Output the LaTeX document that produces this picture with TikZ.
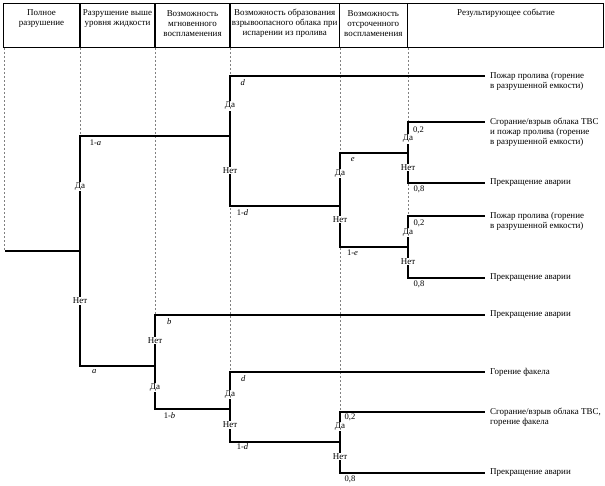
\documentclass[tikz,border=0pt]{standalone}
\usepackage{fontspec}
\setmainfont{Liberation Serif}
\begin{document}
\begin{tikzpicture}[x=1bp,y=-1bp,
  tree/.style={line width=2bp, line join=miter},
  hdr/.style={line width=1.2bp},
  guide/.style={line width=0.5bp, gray, dash pattern=on 2bp off 2bp},
  hdrtext/.style={font=\fontsize{9}{10}\selectfont, align=center, inner sep=0pt},
  yn/.style={font=\fontsize{9}{10}\selectfont, fill=white, inner sep=0.8bp},
  prob/.style={font=\fontsize{8.6}{10}\selectfont, inner sep=0pt},
  res/.style={font=\fontsize{9}{10.3}\selectfont, align=left, anchor=west, inner sep=0pt}]
\useasboundingbox (0,0) rectangle (605,486);
% header
\draw[hdr] (3.5,3.5) rectangle (603.5,47.5);
\foreach \x in {80,155,230,339.5,407.5} \draw[hdr] (\x,3.5) -- (\x,47.5);
\node[hdrtext] (h1) at (41.5,18.3) {Полное\\разрушение};
\node[hdrtext] (h2) at (117.5,18.3) {Разрушение выше\\уровня жидкости};
\node[hdrtext] (h3) at (192.5,23.3) {Возможность\\мгновенного\\воспламенения};
\node[hdrtext] (h4) at (284.7,23.3) {Возможность образования\\взрывоопасного облака при\\испарении из пролива};
\node[hdrtext] (h5) at (373.3,23.3) {Возможность\\отсроченного\\воспламенения};
\node[hdrtext] (h6) at (506,13.3) {Результирующее событие};
% guide lines
\draw[guide] (4,48) -- (4,251);
\draw[guide] (80,48) -- (80,136);
\draw[guide] (155,48) -- (155,315);
\draw[guide] (230,48) -- (230,372);
\draw[guide] (340,48) -- (340,412);
\draw[guide] (408,48) -- (408,278);
% junctions
\coordinate (r0) at (5,251);
\coordinate (n1) at (80,251);
\coordinate (n2) at (230,136);
\coordinate (n3) at (340,206);
\coordinate (n4) at (408,153);
\coordinate (n5) at (408,247);
\coordinate (n6) at (155,366);
\coordinate (n7) at (230,409);
\coordinate (n8) at (340,442);
\coordinate (e1) at (485,76);
\coordinate (e2) at (485,122);
\coordinate (e3) at (485,183);
\coordinate (e4) at (485,216);
\coordinate (e5) at (485,278);
\coordinate (e6) at (485,315);
\coordinate (e7) at (485,372);
\coordinate (e8) at (485,412);
\coordinate (e9) at (485,473);
% tree
\draw[tree] (r0) -- (n1);
\draw[tree] (n1) |- (n2);
\draw[tree] (n1) |- (n6);
\draw[tree] (n2) |- (e1);
\draw[tree] (n2) |- (n3);
\draw[tree] (n3) |- (n4);
\draw[tree] (n3) |- (n5);
\draw[tree] (n4) |- (e2);
\draw[tree] (n4) |- (e3);
\draw[tree] (n5) |- (e4);
\draw[tree] (n5) |- (e5);
\draw[tree] (n6) |- (e6);
\draw[tree] (n6) |- (n7);
\draw[tree] (n7) |- (e7);
\draw[tree] (n7) |- (n8);
\draw[tree] (n8) |- (e8);
\draw[tree] (n8) |- (e9);
% yes/no labels
\node[yn] (y1) at (80,186.7) {Да};
\node[yn] (no1) at (80,301) {Нет};
\node[yn] (y2) at (230,106) {Да};
\node[yn] (no2) at (230,170.7) {Нет};
\node[yn] (y3) at (340,173.3) {Да};
\node[yn] (no3) at (340,219.3) {Нет};
\node[yn] (y4) at (408,139) {Да};
\node[yn] (no4) at (408,167.3) {Нет};
\node[yn] (y5) at (408,232.7) {Да};
\node[yn] (no5) at (408,261.7) {Нет};
\node[yn] (no6) at (155,340.7) {Нет};
\node[yn] (y6) at (155,387.3) {Да};
\node[yn] (y7) at (230,394.3) {Да};
\node[yn] (no7) at (230,425) {Нет};
\node[yn] (y8) at (340,426.7) {Да};
\node[yn] (no8) at (340,456.7) {Нет};
% probabilities
\node[prob] (p1) at (95.5,142.3) {1-\textit{a}};
\node[prob] (p2) at (242.7,82.7) {\textit{d}};
\node[prob] (p3) at (242.5,212.7) {1-\textit{d}};
\node[prob] (p4) at (352.7,159.3) {\textit{e}};
\node[prob] (p5) at (352.5,252.7) {1-\textit{e}};
\node[prob] (p6) at (418.5,130) {0,2};
\node[prob] (p7) at (419,189.3) {0,8};
\node[prob] (p8) at (419,223.3) {0,2};
\node[prob] (p9) at (419,284) {0,8};
\node[prob] (p10) at (94.3,371.7) {\textit{a}};
\node[prob] (p11) at (169.3,321.7) {\textit{b}};
\node[prob] (p12) at (169.5,416) {1-\textit{b}};
\node[prob] (p13) at (243.3,378.3) {\textit{d}};
\node[prob] (p14) at (242.5,446.7) {1-\textit{d}};
\node[prob] (p15) at (350,417.3) {0,2};
\node[prob] (p16) at (350,479.3) {0,8};
% results
\node[res] (res1) at (490,81.15) {Пожар пролива (горение\\в разрушенной емкости)};
\node[res] (res2) at (490,132.3) {Сгорание/взрыв облака ТВС\\и пожар пролива (горение\\в разрушенной емкости)};
\node[res] (res3) at (490,183) {Прекращение аварии};
\node[res] (res4) at (490,221.15) {Пожар пролива (горение\\в разрушенной емкости)};
\node[res] (res5) at (490,278) {Прекращение аварии};
\node[res] (res6) at (490,315) {Прекращение аварии};
\node[res] (res7) at (490,372) {Горение факела};
\node[res] (res8) at (490,417.15) {Сгорание/взрыв облака ТВС,\\горение факела};
\node[res] (res9) at (490,473) {Прекращение аварии};
\end{tikzpicture}
\end{document}
